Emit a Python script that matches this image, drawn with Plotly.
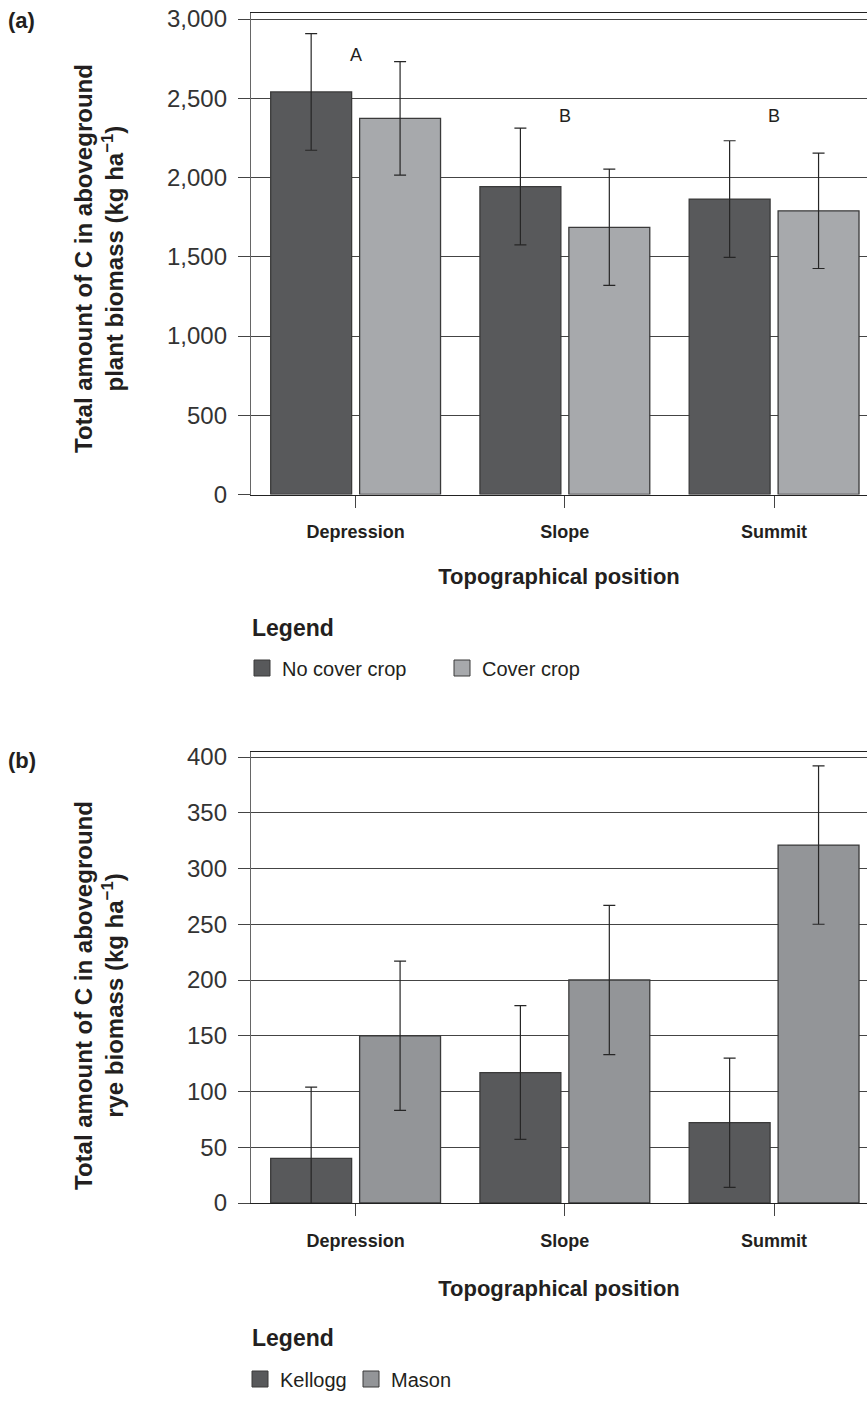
import plotly.graph_objects as go

# ---------------- data ----------------
categories = ["Depression", "Slope", "Summit"]

# panel (a): total C in aboveground plant biomass (kg ha-1)
no_cover = [2540, 1943, 1864]
no_cover_err = [368, 368, 368]
cover = [2373, 1686, 1790]
cover_err = [358, 367, 364]
sig_letters = ["A", "B", "B"]
sig_letter_y = [2776, 2385, 2385]

# panel (b): total C in aboveground rye biomass (kg ha-1)
kellogg = [40, 117, 72]
kellogg_err = [64, 60, 58]
mason = [150, 200, 321]
mason_err = [67, 67, 71]

y_ticks_a = [0, 500, 1000, 1500, 2000, 2500, 3000]
y_ticks_b = [0, 50, 100, 150, 200, 250, 300, 350, 400]

# ---------------- style ----------------
W, H = 867, 1427
ML = 251                      # left margin (px)
PW = W - ML                   # plot width (px)
DARK = "#58595b"
LIGHT_A = "#a7a9ac"
LIGHT_B = "#939598"
EDGE = "#3a3a3a"
LINE = "#444444"
TXT = "#231f20"
FONT = "Liberation Sans, Arial, sans-serif"


def py(px):
    """pixel row -> paper fraction"""
    return 1 - px / H


def px_x(px):
    """pixel column -> paper fraction (paper spans the plot area)"""
    return (px - ML) / PW


fig = go.Figure()

err_style = dict(type="data", color="#262626", thickness=1.2, width=6, visible=True)

# panel a bars
fig.add_trace(go.Bar(name="No cover crop", x=categories, y=no_cover,
                     error_y=dict(array=no_cover_err, **err_style),
                     marker=dict(color=DARK, line=dict(color=EDGE, width=1.3)),
                     xaxis="x", yaxis="y", showlegend=False))
fig.add_trace(go.Bar(name="Cover crop", x=categories, y=cover,
                     error_y=dict(array=cover_err, **err_style),
                     marker=dict(color=LIGHT_A, line=dict(color=EDGE, width=1.3)),
                     xaxis="x", yaxis="y", showlegend=False))
# panel b bars
fig.add_trace(go.Bar(name="Kellogg", x=categories, y=kellogg,
                     error_y=dict(array=kellogg_err, **err_style),
                     marker=dict(color=DARK, line=dict(color=EDGE, width=1.3)),
                     xaxis="x2", yaxis="y2", showlegend=False))
fig.add_trace(go.Bar(name="Mason", x=categories, y=mason,
                     error_y=dict(array=mason_err, **err_style),
                     marker=dict(color=LIGHT_B, line=dict(color=EDGE, width=1.3)),
                     xaxis="x2", yaxis="y2", showlegend=False))

# legend entries (square swatches)
for name, col, lg, xa, ya in [("No cover crop", DARK, "legend", "x", "y"),
                              ("Cover crop", LIGHT_A, "legend", "x", "y"),
                              ("Kellogg", DARK, "legend2", "x2", "y2"),
                              ("Mason", LIGHT_B, "legend2", "x2", "y2")]:
    fig.add_trace(go.Scatter(name=name, x=[None], y=[None], mode="markers",
                             marker=dict(symbol="square", size=20, color=col,
                                         line=dict(color=EDGE, width=1)),
                             legend=lg, xaxis=xa, yaxis=ya, showlegend=True))


def xaxis_cfg(title_standoff):
    return dict(
        type="category", categoryorder="array", categoryarray=categories,
        range=[-0.5, 2.444], showline=True, linecolor="#222222", linewidth=1.3,
        mirror=True, ticks="outside", ticklen=12, tickcolor=LINE, tickwidth=1,
        showgrid=False, zeroline=False, automargin=False,
        tickfont=dict(family=FONT, size=18, color=TXT, weight="bold"),
        title=dict(text="Topographical position",
                   font=dict(family=FONT, size=22, color=TXT, weight="bold"),
                   standoff=title_standoff),
        ticklabelstandoff=9,
    )


yaxis_common = dict(
    showline=True, linecolor="#666666", linewidth=1.3, automargin=False,
    ticks="outside", ticklen=12, tickcolor=LINE, tickwidth=1,
    showgrid=True, gridcolor=LINE, gridwidth=1, zeroline=False,
    tickfont=dict(family=FONT, size=24, color="#333333"),
    tickformat=",", ticklabelstandoff=6,
)

legend_common = dict(orientation="h", xanchor="left", yanchor="middle",
                     font=dict(family=FONT, size=20, color=TXT),
                     entrywidthmode="pixels", bgcolor="rgba(0,0,0,0)",
                     borderwidth=0)

fig.update_layout(
    width=W, height=H,
    margin=dict(l=ML, r=0, t=0, b=0, autoexpand=False),
    paper_bgcolor="white", plot_bgcolor="white",
    barmode="group", bargap=0.15, bargroupgap=0.09,
    font=dict(family=FONT, color=TXT),
    xaxis=dict(anchor="y", domain=[0, 1], **xaxis_cfg(27)),
    xaxis2=dict(anchor="y2", domain=[0, 1], **xaxis_cfg(30)),
    yaxis=dict(anchor="x", domain=[py(494.5), py(13)], range=[0, 3038],
               tickvals=y_ticks_a, **yaxis_common),
    yaxis2=dict(anchor="x2", domain=[py(1203), py(752)], range=[0, 404.5],
                tickvals=y_ticks_b, **yaxis_common),
    legend=dict(x=px_x(242), y=py(668), entrywidth=155, **legend_common),
    legend2=dict(x=px_x(240), y=py(1379), entrywidth=66, **legend_common),
)

annotations = []
# significance letters
for c, t, v in zip(categories, sig_letters, sig_letter_y):
    annotations.append(dict(x=c, y=v, xref="x", yref="y", text=t, showarrow=False,
                            font=dict(family=FONT, size=18, color=TXT)))
# y-axis titles
annotations.append(dict(x=px_x(99), y=py(259), xref="paper", yref="paper",
                        text="Total amount of C in aboveground<br>plant biomass (kg ha<sup>\u22121</sup>)",
                        textangle=-90, showarrow=False, xanchor="center", yanchor="middle",
                        font=dict(family=FONT, size=24, color=TXT, weight="bold")))
annotations.append(dict(x=px_x(99), y=py(996), xref="paper", yref="paper",
                        text="Total amount of C in aboveground<br>rye biomass (kg ha<sup>\u22121</sup>)",
                        textangle=-90, showarrow=False, xanchor="center", yanchor="middle",
                        font=dict(family=FONT, size=24, color=TXT, weight="bold")))
# legend headings
for yy in (628, 1338):
    annotations.append(dict(x=px_x(250), y=py(yy), xref="paper", yref="paper", text="Legend",
                            showarrow=False, xanchor="left", yanchor="middle",
                            font=dict(family=FONT, size=23, color=TXT, weight="bold")))
# panel labels
annotations.append(dict(x=px_x(6), y=py(21), xref="paper", yref="paper", text="(a)",
                        showarrow=False, xanchor="left", yanchor="middle",
                        font=dict(family=FONT, size=22, color=TXT, weight="bold")))
annotations.append(dict(x=px_x(6), y=py(761), xref="paper", yref="paper", text="(b)",
                        showarrow=False, xanchor="left", yanchor="middle",
                        font=dict(family=FONT, size=22, color=TXT, weight="bold")))
fig.update_layout(annotations=annotations)

fig.write_html("out.html")
